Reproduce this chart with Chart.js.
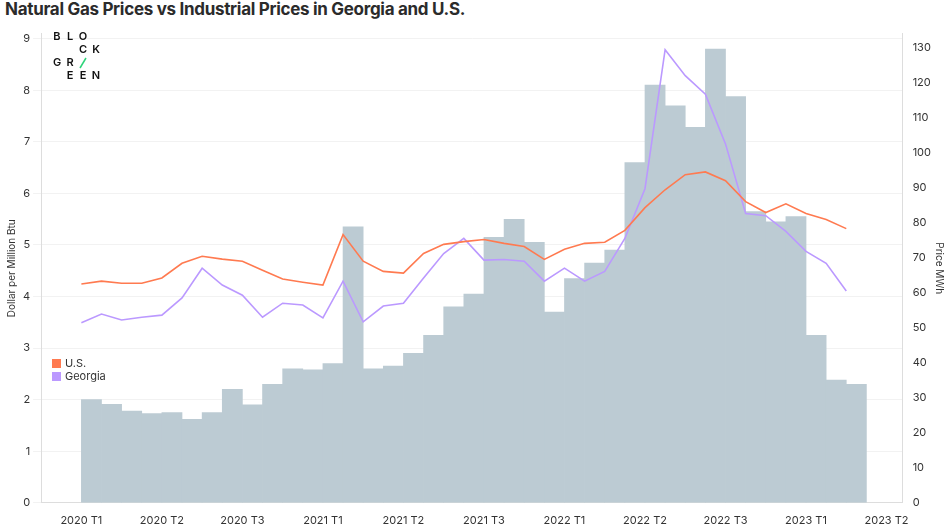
<!DOCTYPE html>
<html><head><meta charset="utf-8">
<script src="https://cdn.jsdelivr.net/npm/chart.js@4"></script>
<style>body{margin:0;background:#fff;font-family:Inter,"Noto Sans",sans-serif}
#t{position:absolute;left:5px;top:-1px;font:700 17px Inter,sans-serif;color:#2b2b2b;letter-spacing:-0.3px}
#w{position:absolute;left:0;top:24px;width:945px;height:506px}</style></head>
<body><div id="t">Natural Gas Prices vs Industrial Prices in Georgia and U.S.</div>
<div id="w"><canvas id="c"></canvas></div>
<script>
const tickLabels = {0:"2020 T1",4:"2020 T2",8:"2020 T3",12:"2021 T1",16:"2021 T2",20:"2021 T3",24:"2022 T1",28:"2022 T2",32:"2022 T3",36:"2023 T1",40:"2023 T2"};
const leftTicks = [0,1,2,3,4,5,6,7,8,9];
const rightTicks = [0,10,20,30,40,50,60,70,80,90,100,110,120,130];
const gasPrice = [2.0,1.91,1.78,1.73,1.75,1.62,1.75,2.2,1.9,2.3,2.6,2.58,2.7,5.35,2.6,2.65,2.9,3.25,3.8,4.05,5.15,5.5,5.05,3.7,4.35,4.65,4.9,6.6,8.1,7.7,7.28,8.8,7.88,5.65,5.45,5.55,3.25,2.38,2.3];
const usPrice = [62.5,63.3,62.7,62.7,64.2,68.4,70.4,69.6,69,66.4,63.9,63,62.2,76.6,69,66.1,65.6,71.2,73.8,74.6,75.2,74.1,73.2,69.5,72.4,74.1,74.4,77.8,84.3,89.4,93.7,94.5,92,86,82.9,85.4,82.6,80.9,78.3];
const georgiaPrice = [51.4,53.9,52.2,53,53.6,58.5,67,62.2,59.3,53,57,56.5,52.8,63.3,51.7,56.2,57,64.2,71.2,75.5,69.3,69.5,69,63.3,67,63.3,66.1,75.5,89.7,129.4,122,116.7,102.5,82.6,82,77.5,71.8,68.4,60.5];
const bars = gasPrice.map((v,i)=>({x:i+0.5,y:v}));
const us = usPrice.map((v,i)=>({x:i,y:v}));
const ga = georgiaPrice.map((v,i)=>({x:i,y:v}));
const font = {family:"Inter",size:11};
const logo = {id:'logo',afterDraw(ch){const c=ch.ctx;c.save();c.font="600 11px Inter";c.fillStyle="#111";c.textAlign="center";c.textBaseline="middle";
 const cols=[57,70,83,96], rows=[13,26,39,52];
 [["B",0,0],["L",1,0],["O",2,0],["C",2,1],["K",3,1],["G",0,2],["R",1,2],["E",1,3],["E",2,3],["N",3,3]].forEach(([t,cx,ry])=>c.fillText(t,cols[cx],rows[ry]));
 c.strokeStyle="#2ed47a";c.lineWidth=1.5;c.beginPath();c.moveTo(80,44);c.lineTo(86,34);c.stroke();
 c.font="11px Inter";c.textAlign="left";
 c.fillStyle="#ff7a50";c.fillRect(52,335,9,9);c.fillStyle="#333";c.fillText("U.S.",65,340);
 c.fillStyle="#bb99ff";c.fillRect(52,348,9,9);c.fillStyle="#333";c.fillText("Georgia",65,353);
 c.restore();}};
function fixed(arr){return s=>{s.ticks=arr.map(v=>({value:v}));};}
new Chart(document.getElementById('c'),{
 data:{datasets:[
  {type:'line',data:us,yAxisID:'y2',borderColor:'#ff7a50',borderWidth:1.6,pointRadius:0,tension:0},
  {type:'line',data:ga,yAxisID:'y2',borderColor:'#bb99ff',borderWidth:1.6,pointRadius:0,tension:0},
  {type:'bar',data:bars,yAxisID:'y',backgroundColor:'#bccbd3',barPercentage:1,categoryPercentage:1}
 ]},
 options:{responsive:true,maintainAspectRatio:false,animation:false,
  layout:{padding:{left:4,right:0,top:0,bottom:0}},
  plugins:{legend:{display:false},tooltip:{enabled:false}},
  scales:{
   x:{type:'linear',offset:false,min:-2,max:40.8,afterBuildTicks:fixed(Object.keys(tickLabels).map(Number)),
      ticks:{callback:v=>tickLabels[v]||'',font,color:'#333',maxRotation:0,autoSkip:false},
      grid:{display:false},border:{color:'#ddd'}},
   y:{position:'left',min:0,max:9.1,afterBuildTicks:fixed(leftTicks),ticks:{font,color:'#333',autoSkip:false},
      grid:{color:'#f2f2f2'},border:{color:'#ddd'},
      title:{display:true,text:'Dollar per Million Btu',font:{family:'Inter',size:10},color:'#333',padding:{top:2,bottom:2}}},
   y2:{position:'right',min:0,max:134,afterBuildTicks:fixed(rightTicks),ticks:{font,color:'#333',autoSkip:false,padding:2},
      grid:{display:false},border:{color:'#ddd'},
      title:{display:true,text:'Price MWh',font:{family:'Inter',size:10},color:'#333',padding:{top:0,bottom:0}}}
  }},
 plugins:[logo]});
</script></body></html>
